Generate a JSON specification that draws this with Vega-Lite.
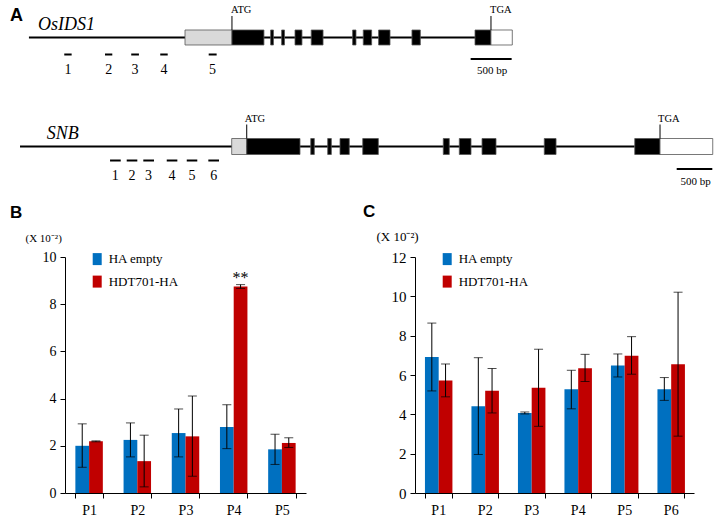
{
  "$schema": "https://vega.github.io/schema/vega-lite/v6.json",
  "padding": 0,
  "background": "white",
  "bounds": "flush",
  "spacing": 73,
  "config": {
    "view": {"stroke": null},
    "font": "Liberation Serif",
    "axis": {"labelFont": "Liberation Serif", "labelColor": "black", "domainColor": "black", "tickColor": "black", "grid": false, "labelFontSize": 14, "tickSize": 5, "domainWidth": 1, "tickWidth": 1, "labelOverlap": false},
    "legend": {"labelFont": "Liberation Serif", "labelColor": "black"}
  },
  "datasets": {
    "ids_backbone": [{"gene": "OsIDS1", "start": -2477, "end": 2965}],
    "ids_parts": [
      {"gene": "OsIDS1", "part": "UTR5", "start": -573, "end": 0},
      {"gene": "OsIDS1", "part": "CDS", "start": 0, "end": 390},
      {"gene": "OsIDS1", "part": "CDS", "start": 472, "end": 506},
      {"gene": "OsIDS1", "part": "CDS", "start": 606, "end": 641},
      {"gene": "OsIDS1", "part": "CDS", "start": 769, "end": 854},
      {"gene": "OsIDS1", "part": "CDS", "start": 967, "end": 1111},
      {"gene": "OsIDS1", "part": "CDS", "start": 1472, "end": 1513},
      {"gene": "OsIDS1", "part": "CDS", "start": 1602, "end": 1704},
      {"gene": "OsIDS1", "part": "CDS", "start": 1789, "end": 1928},
      {"gene": "OsIDS1", "part": "CDS", "start": 2196, "end": 2298},
      {"gene": "OsIDS1", "part": "CDS", "start": 2965, "end": 3160},
      {"gene": "OsIDS1", "part": "UTR3", "start": 3160, "end": 3420}
    ],
    "ids_codons": [
      {"gene": "OsIDS1", "codon": "ATG", "pos": 0},
      {"gene": "OsIDS1", "codon": "TGA", "pos": 3160}
    ],
    "ids_probes": [
      {"gene": "OsIDS1", "probe": "1", "start": -2046, "end": -1956},
      {"gene": "OsIDS1", "probe": "2", "start": -1549, "end": -1460},
      {"gene": "OsIDS1", "probe": "3", "start": -1229, "end": -1135},
      {"gene": "OsIDS1", "probe": "4", "start": -875, "end": -784},
      {"gene": "OsIDS1", "probe": "5", "start": -284, "end": -187}
    ],
    "ids_bar": [{"gene": "OsIDS1", "label": "500 bp", "start": 2912, "end": 3412}],
    "ids_name": [{"gene": "OsIDS1", "name": "OsIDS1", "pos": -2367}],
    "panel_a": [{"gene": "OsIDS1", "label": "A", "pos": -2708}],
    "snb_backbone": [{"gene": "SNB", "start": -3183, "end": 5448}],
    "snb_parts": [
      {"gene": "SNB", "part": "UTR5", "start": -211, "end": 0},
      {"gene": "SNB", "part": "CDS", "start": 0, "end": 748},
      {"gene": "SNB", "part": "CDS", "start": 899, "end": 949},
      {"gene": "SNB", "part": "CDS", "start": 1137, "end": 1188},
      {"gene": "SNB", "part": "CDS", "start": 1310, "end": 1440},
      {"gene": "SNB", "part": "CDS", "start": 1629, "end": 1848},
      {"gene": "SNB", "part": "CDS", "start": 2760, "end": 2844},
      {"gene": "SNB", "part": "CDS", "start": 2985, "end": 3149},
      {"gene": "SNB", "part": "CDS", "start": 3304, "end": 3500},
      {"gene": "SNB", "part": "CDS", "start": 4178, "end": 4343},
      {"gene": "SNB", "part": "CDS", "start": 5448, "end": 5803},
      {"gene": "SNB", "part": "UTR3", "start": 5803, "end": 6543}
    ],
    "snb_codons": [
      {"gene": "SNB", "codon": "ATG", "pos": 0},
      {"gene": "SNB", "codon": "TGA", "pos": 5803}
    ],
    "snb_probes": [
      {"gene": "SNB", "probe": "1", "start": -1919, "end": -1769},
      {"gene": "SNB", "probe": "2", "start": -1685, "end": -1536},
      {"gene": "SNB", "probe": "3", "start": -1452, "end": -1302},
      {"gene": "SNB", "probe": "4", "start": -1123, "end": -974},
      {"gene": "SNB", "probe": "5", "start": -842, "end": -694},
      {"gene": "SNB", "probe": "6", "start": -539, "end": -389}
    ],
    "snb_bar": [{"gene": "SNB", "label": "500 bp", "start": 6037, "end": 6537}],
    "snb_name": [{"gene": "SNB", "name": "SNB", "pos": -2808}],
    "chip_b": [
      {"region": "P1", "sample": "HA empty", "value": 2.0, "lo": 1.09, "hi": 2.93, "sig": ""},
      {"region": "P1", "sample": "HDT701-HA", "value": 2.19, "lo": 2.17, "hi": 2.21, "sig": ""},
      {"region": "P2", "sample": "HA empty", "value": 2.25, "lo": 1.53, "hi": 2.97, "sig": ""},
      {"region": "P2", "sample": "HDT701-HA", "value": 1.35, "lo": 0.26, "hi": 2.45, "sig": ""},
      {"region": "P3", "sample": "HA empty", "value": 2.54, "lo": 1.53, "hi": 3.56, "sig": ""},
      {"region": "P3", "sample": "HDT701-HA", "value": 2.4, "lo": 0.71, "hi": 4.11, "sig": ""},
      {"region": "P4", "sample": "HA empty", "value": 2.8, "lo": 1.88, "hi": 3.74, "sig": ""},
      {"region": "P4", "sample": "HDT701-HA", "value": 8.75, "lo": 8.67, "hi": 8.83, "sig": "**"},
      {"region": "P5", "sample": "HA empty", "value": 1.85, "lo": 1.21, "hi": 2.49, "sig": ""},
      {"region": "P5", "sample": "HDT701-HA", "value": 2.12, "lo": 1.93, "hi": 2.34, "sig": ""}
    ],
    "chip_c": [
      {"region": "P1", "sample": "HA empty", "value": 6.92, "lo": 5.19, "hi": 8.64},
      {"region": "P1", "sample": "HDT701-HA", "value": 5.72, "lo": 4.89, "hi": 6.56},
      {"region": "P2", "sample": "HA empty", "value": 4.41, "lo": 1.96, "hi": 6.88},
      {"region": "P2", "sample": "HDT701-HA", "value": 5.2, "lo": 4.07, "hi": 6.33},
      {"region": "P3", "sample": "HA empty", "value": 4.07, "lo": 4.02, "hi": 4.12},
      {"region": "P3", "sample": "HDT701-HA", "value": 5.35, "lo": 3.39, "hi": 7.31},
      {"region": "P4", "sample": "HA empty", "value": 5.27, "lo": 4.28, "hi": 6.24},
      {"region": "P4", "sample": "HDT701-HA", "value": 6.34, "lo": 5.67, "hi": 7.05},
      {"region": "P5", "sample": "HA empty", "value": 6.48, "lo": 5.9, "hi": 7.07},
      {"region": "P5", "sample": "HDT701-HA", "value": 6.98, "lo": 6.04, "hi": 7.95},
      {"region": "P6", "sample": "HA empty", "value": 5.28, "lo": 4.71, "hi": 5.87},
      {"region": "P6", "sample": "HDT701-HA", "value": 6.55, "lo": 2.89, "hi": 10.21}
    ]
  },
  "vconcat": [
    {
      "width": 720,
      "height": 184,
      "resolve": {"scale": {"x": "independent"}},
      "layer": [
        {
          "layer": [
            {
              "data": {"name": "ids_backbone"},
              "mark": {"type": "rule", "strokeWidth": 2, "color": "black"},
              "encoding": {
                "x": {"field": "start", "type": "quantitative", "scale": {"domain": [-2830, 5954], "nice": false, "zero": false}, "axis": null},
                "x2": {"field": "end"},
                "y": {"field": "gene", "type": "nominal", "scale": {"type": "point", "domain": ["OsIDS1", "SNB"], "padding": 0.344}, "axis": null}
              }
            },
            {
              "data": {"name": "ids_parts"},
              "mark": {"type": "rect", "height": 15, "stroke": "#555555", "strokeWidth": 0.8},
              "encoding": {
                "x": {"field": "start", "type": "quantitative", "scale": {"domain": [-2830, 5954], "nice": false, "zero": false}, "axis": null},
                "x2": {"field": "end"},
                "y": {"field": "gene", "type": "nominal", "axis": null},
                "fill": {"field": "part", "type": "nominal", "scale": {"domain": ["UTR5", "CDS", "UTR3"], "range": ["#d9d9d9", "#000000", "#ffffff"]}, "legend": null}
              }
            },
            {
              "data": {"name": "ids_codons"},
              "mark": {"type": "rule", "strokeWidth": 1, "color": "black", "yOffset": -21.5, "y2Offset": -7.5},
              "encoding": {
                "x": {"field": "pos", "type": "quantitative", "axis": null},
                "y": {"field": "gene", "type": "nominal", "axis": null},
                "y2": {"field": "gene"}
              }
            },
            {
              "data": {"name": "ids_codons"},
              "mark": {"type": "text", "fontSize": 10.5, "align": "left", "baseline": "middle", "dx": -1, "dy": -27, "color": "black"},
              "encoding": {
                "x": {"field": "pos", "type": "quantitative", "axis": null},
                "y": {"field": "gene", "type": "nominal", "axis": null},
                "text": {"field": "codon"}
              }
            },
            {
              "data": {"name": "ids_probes"},
              "mark": {"type": "rule", "strokeWidth": 2, "color": "black", "yOffset": 17},
              "encoding": {
                "x": {"field": "start", "type": "quantitative", "axis": null},
                "x2": {"field": "end"},
                "y": {"field": "gene", "type": "nominal", "axis": null}
              }
            },
            {
              "data": {"name": "ids_probes"},
              "mark": {"type": "text", "fontSize": 14, "align": "center", "baseline": "middle", "dx": 3.7, "dy": 33, "color": "black"},
              "encoding": {
                "x": {"field": "start", "type": "quantitative", "axis": null},
                "y": {"field": "gene", "type": "nominal", "axis": null},
                "text": {"field": "probe"}
              }
            },
            {
              "data": {"name": "ids_bar"},
              "mark": {"type": "rule", "strokeWidth": 2, "color": "black", "yOffset": 21.5},
              "encoding": {
                "x": {"field": "start", "type": "quantitative", "axis": null},
                "x2": {"field": "end"},
                "y": {"field": "gene", "type": "nominal", "axis": null}
              }
            },
            {
              "data": {"name": "ids_bar"},
              "mark": {"type": "text", "fontSize": 11, "align": "center", "baseline": "middle", "dx": 21.5, "dy": 34, "color": "black"},
              "encoding": {
                "x": {"field": "start", "type": "quantitative", "axis": null},
                "y": {"field": "gene", "type": "nominal", "axis": null},
                "text": {"field": "label"}
              }
            },
            {
              "data": {"name": "ids_name"},
              "mark": {"type": "text", "fontSize": 18, "fontStyle": "italic", "align": "left", "baseline": "middle", "dy": -12.5, "color": "black"},
              "encoding": {
                "x": {"field": "pos", "type": "quantitative", "axis": null},
                "y": {"field": "gene", "type": "nominal", "axis": null},
                "text": {"field": "name"}
              }
            },
            {
              "data": {"name": "panel_a"},
              "mark": {"type": "text", "font": "Liberation Sans", "fontWeight": "bold", "fontSize": 18, "align": "left", "baseline": "middle", "dy": -21.5, "color": "black"},
              "encoding": {
                "x": {"field": "pos", "type": "quantitative", "axis": null},
                "y": {"field": "gene", "type": "nominal", "axis": null},
                "text": {"field": "label"}
              }
            }
          ]
        },
        {
          "layer": [
            {
              "data": {"name": "snb_backbone"},
              "mark": {"type": "rule", "strokeWidth": 2, "color": "black"},
              "encoding": {
                "x": {"field": "start", "type": "quantitative", "scale": {"domain": [-3464, 6645], "nice": false, "zero": false}, "axis": null},
                "x2": {"field": "end"},
                "y": {"field": "gene", "type": "nominal", "axis": null}
              }
            },
            {
              "data": {"name": "snb_parts"},
              "mark": {"type": "rect", "height": 16, "stroke": "#555555", "strokeWidth": 0.8},
              "encoding": {
                "x": {"field": "start", "type": "quantitative", "scale": {"domain": [-3464, 6645], "nice": false, "zero": false}, "axis": null},
                "x2": {"field": "end"},
                "y": {"field": "gene", "type": "nominal", "axis": null},
                "fill": {"field": "part", "type": "nominal", "legend": null}
              }
            },
            {
              "data": {"name": "snb_codons"},
              "mark": {"type": "rule", "strokeWidth": 1, "color": "black", "yOffset": -22, "y2Offset": -8},
              "encoding": {
                "x": {"field": "pos", "type": "quantitative", "axis": null},
                "y": {"field": "gene", "type": "nominal", "axis": null},
                "y2": {"field": "gene"}
              }
            },
            {
              "data": {"name": "snb_codons"},
              "mark": {"type": "text", "fontSize": 10.5, "align": "left", "baseline": "middle", "dx": -2, "dy": -28, "color": "black"},
              "encoding": {
                "x": {"field": "pos", "type": "quantitative", "axis": null},
                "y": {"field": "gene", "type": "nominal", "axis": null},
                "text": {"field": "codon"}
              }
            },
            {
              "data": {"name": "snb_probes"},
              "mark": {"type": "rule", "strokeWidth": 2, "color": "black", "yOffset": 14},
              "encoding": {
                "x": {"field": "start", "type": "quantitative", "axis": null},
                "x2": {"field": "end"},
                "y": {"field": "gene", "type": "nominal", "axis": null}
              }
            },
            {
              "data": {"name": "snb_probes"},
              "mark": {"type": "text", "fontSize": 14, "align": "center", "baseline": "middle", "dx": 5.3, "dy": 29, "color": "black"},
              "encoding": {
                "x": {"field": "start", "type": "quantitative", "axis": null},
                "y": {"field": "gene", "type": "nominal", "axis": null},
                "text": {"field": "probe"}
              }
            },
            {
              "data": {"name": "snb_bar"},
              "mark": {"type": "rule", "strokeWidth": 2, "color": "black", "yOffset": 22.5},
              "encoding": {
                "x": {"field": "start", "type": "quantitative", "axis": null},
                "x2": {"field": "end"},
                "y": {"field": "gene", "type": "nominal", "axis": null}
              }
            },
            {
              "data": {"name": "snb_bar"},
              "mark": {"type": "text", "fontSize": 11, "align": "center", "baseline": "middle", "dx": 19, "dy": 35, "color": "black"},
              "encoding": {
                "x": {"field": "start", "type": "quantitative", "axis": null},
                "y": {"field": "gene", "type": "nominal", "axis": null},
                "text": {"field": "label"}
              }
            },
            {
              "data": {"name": "snb_name"},
              "mark": {"type": "text", "fontSize": 18, "fontStyle": "italic", "align": "left", "baseline": "middle", "dy": -13, "color": "black"},
              "encoding": {
                "x": {"field": "pos", "type": "quantitative", "axis": null},
                "y": {"field": "gene", "type": "nominal", "axis": null},
                "text": {"field": "name"}
              }
            }
          ]
        }
      ]
    },
    {
      "bounds": "flush",
      "spacing": 20,
      "hconcat": [
        {"width": 45, "height": 236, "data": {"values": []}, "mark": "point", "encoding": {}},
        {
          "bounds": "flush",
          "spacing": 109,
          "resolve": {"scale": {"color": "independent"}, "legend": {"color": "independent"}},
          "hconcat": [
            {
              "width": 241,
              "height": 236,
              "title": {"text": "B", "anchor": "start", "frame": "group", "dx": -55, "offset": 10, "font": "Liberation Sans", "fontSize": 17, "fontWeight": "bold", "color": "black"},
              "data": {"name": "chip_b"},
              "encoding": {
                "x": {"field": "region", "type": "nominal", "scale": {"paddingInner": 0.43, "paddingOuter": 0.215}, "axis": {"title": null, "labelAngle": 0, "tickBand": "extent", "labelPadding": 5, "labelFontSize": 14}},
                "xOffset": {"field": "sample", "type": "nominal", "scale": {"domain": ["HA empty", "HDT701-HA"], "paddingInner": 0, "paddingOuter": 0}},
                "y": {"field": "value", "type": "quantitative", "scale": {"domain": [0, 10], "nice": false}, "axis": {"values": [0, 2, 4, 6, 8, 10], "title": "(X 10⁻²)", "titleAngle": 0, "titleAlign": "left", "titleBaseline": "middle", "titleX": -40, "titleY": -19, "titleFont": "Liberation Serif", "titleFontWeight": "normal", "titleFontSize": 11, "titleColor": "black", "labelPadding": 4, "labelFontSize": 14}}
              },
              "layer": [
                {
                  "mark": {"type": "bar"},
                  "encoding": {
                    "color": {"field": "sample", "type": "nominal", "scale": {"domain": ["HA empty", "HDT701-HA"], "range": ["#0070c0", "#c00000"]}, "legend": {"title": null, "orient": "none", "legendX": 25.7, "legendY": -4.4, "symbolType": "M-0.75,-1H0.75V1H-0.75Z", "symbolSize": 144, "symbolStrokeWidth": 0, "labelFontSize": 13, "labelOffset": 5, "rowPadding": 8.5, "padding": 0}}
                  }
                },
                {
                  "mark": {"type": "rule", "color": "black", "strokeWidth": 1},
                  "encoding": {"y": {"field": "lo", "type": "quantitative"}, "y2": {"field": "hi"}}
                },
                {
                  "mark": {"type": "tick", "color": "black", "thickness": 1, "size": 9, "orient": "horizontal"},
                  "encoding": {"y": {"field": "lo", "type": "quantitative"}}
                },
                {
                  "mark": {"type": "tick", "color": "black", "thickness": 1, "size": 9, "orient": "horizontal"},
                  "encoding": {"y": {"field": "hi", "type": "quantitative"}}
                },
                {
                  "transform": [{"filter": "datum.sig != ''"}],
                  "mark": {"type": "text", "fontSize": 16, "baseline": "middle", "dy": -7, "color": "black"},
                  "encoding": {"y": {"field": "hi", "type": "quantitative"}, "text": {"field": "sig"}}
                }
              ]
            },
            {
              "width": 279,
              "height": 236,
              "title": {"text": "C", "anchor": "start", "frame": "group", "dx": -52, "offset": 10, "font": "Liberation Sans", "fontSize": 17, "fontWeight": "bold", "color": "black"},
              "data": {"name": "chip_c"},
              "encoding": {
                "x": {"field": "region", "type": "nominal", "scale": {"paddingInner": 0.428, "paddingOuter": 0.214}, "axis": {"title": null, "labelAngle": 0, "tickBand": "extent", "labelPadding": 5, "labelFontSize": 14}},
                "xOffset": {"field": "sample", "type": "nominal", "scale": {"domain": ["HA empty", "HDT701-HA"], "paddingInner": 0, "paddingOuter": 0}},
                "y": {"field": "value", "type": "quantitative", "scale": {"domain": [0, 12], "nice": false}, "axis": {"values": [0, 2, 4, 6, 8, 10, 12], "title": "(X 10⁻²)", "titleAngle": 0, "titleAlign": "left", "titleBaseline": "middle", "titleX": -39, "titleY": -20.5, "titleFont": "Liberation Serif", "titleFontWeight": "normal", "titleFontSize": 13, "titleColor": "black", "labelPadding": 4, "labelFontSize": 15}}
              },
              "layer": [
                {
                  "mark": {"type": "bar"},
                  "encoding": {
                    "color": {"field": "sample", "type": "nominal", "scale": {"domain": ["HA empty", "HDT701-HA"], "range": ["#0070c0", "#c00000"]}, "legend": {"title": null, "orient": "none", "legendX": 25.7, "legendY": -4.4, "symbolType": "M-0.75,-1H0.75V1H-0.75Z", "symbolSize": 144, "symbolStrokeWidth": 0, "labelFontSize": 13, "labelOffset": 5, "rowPadding": 8.5, "padding": 0}}
                  }
                },
                {
                  "mark": {"type": "rule", "color": "black", "strokeWidth": 1},
                  "encoding": {"y": {"field": "lo", "type": "quantitative"}, "y2": {"field": "hi"}}
                },
                {
                  "mark": {"type": "tick", "color": "black", "thickness": 1, "size": 9, "orient": "horizontal"},
                  "encoding": {"y": {"field": "lo", "type": "quantitative"}}
                },
                {
                  "mark": {"type": "tick", "color": "black", "thickness": 1, "size": 9, "orient": "horizontal"},
                  "encoding": {"y": {"field": "hi", "type": "quantitative"}}
                }
              ]
            }
          ]
        }
      ]
    }
  ]
}
